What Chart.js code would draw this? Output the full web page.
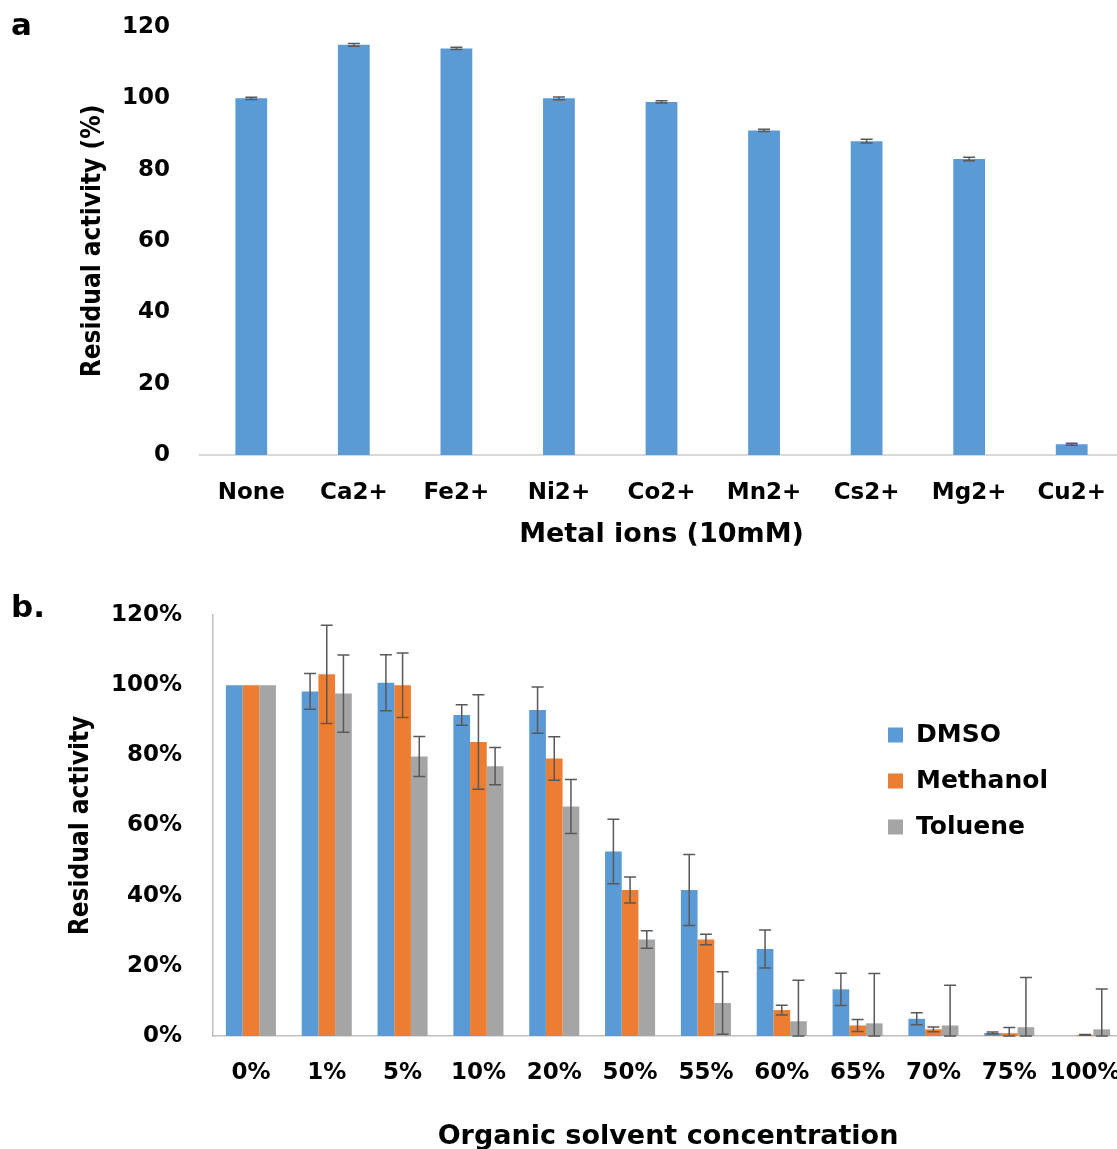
<!DOCTYPE html>
<html>
<head>
<meta charset="utf-8">
<title>Residual activity</title>
<script src="https://cdn.jsdelivr.net/npm/chart.js@4.4.0/dist/chart.umd.min.js"></script>
<style>
  html, body { margin: 0; padding: 0; background: #fff; overflow: hidden; }
  #wrap { position: relative; width: 1117px; height: 1149px; overflow: hidden; }
  canvas { position: absolute; left: 0; }
  #chartA { top: 0; }
  #chartB { top: 565px; }
  .panel { position: absolute; font: bold 31px "DejaVu Sans"; line-height: 31px; color: #000; }
</style>
</head>
<body>
<div id="wrap">
  <canvas id="chartA" width="1125" height="565"></canvas>
  <canvas id="chartB" width="1125" height="610"></canvas>
  <div class="panel" style="left:11px; top:9px">a</div>
  <div class="panel" style="left:11px; top:591px">b.</div>
</div>
<script>
// panel a - metal ions
var ions = ["None", "Ca2+", "Fe2+", "Ni2+", "Co2+", "Mn2+", "Cs2+", "Mg2+", "Cu2+"];
var ionActivity = [100, 115, 114, 100, 99, 91, 88, 83, 3];
var ionError = [0.3, 0.4, 0.3, 0.4, 0.3, 0.3, 0.5, 0.5, 0.3];

// panel b - organic solvents
var solventConc = ["0%", "1%", "5%", "10%", "20%", "50%", "55%", "60%", "65%", "70%", "75%", "100%"];
var dmso = [100, 98.2, 100.7, 91.5, 92.9, 52.6, 41.6, 24.8, 13.3, 4.9, 0.85, 0];
var dmsoErr = [0, 5.1, 8, 2.9, 6.6, 9.2, 10.1, 5.4, 4.6, 1.7, 0.3, 0];
var methanol = [100, 103.1, 100, 83.8, 79.1, 41.6, 27.5, 7.4, 3.0, 1.9, 0.8, 0.3];
var methanolErr = [0, 14, 9.2, 13.5, 6.2, 3.7, 1.5, 1.4, 1.7, 0.7, 1.6, 0.1];
var toluene = [100, 97.6, 79.7, 76.9, 65.4, 27.5, 9.4, 4.2, 3.6, 3.0, 2.5, 1.9];
var tolueneErr = [0, 11, 5.7, 5.3, 7.7, 2.5, 8.9, 11.7, 14.2, 11.5, 14.2, 11.5];

var narrowFont = "'DejaVu Sans Condensed', 'DejaVu Sans'";

Chart.defaults.font.family = "'DejaVu Sans'";
Chart.defaults.font.weight = "bold";
Chart.defaults.color = "#000";

// draws the error bars with the y scale of the chart
const errorBars = {
  id: "errorBars",
  afterDatasetsDraw(chart) {
    const ctx = chart.ctx;
    const y = chart.scales.y;
    chart.data.datasets.forEach(function (ds, i) {
      if (!ds.errors) return;
      const meta = chart.getDatasetMeta(i);
      meta.data.forEach(function (bar, j) {
        const err = ds.errors[j];
        if (!err) return;
        const v = ds.data[j];
        const top = y.getPixelForValue(v + err);
        const bot = y.getPixelForValue(Math.max(v - err, 0));
        ctx.save();
        ctx.strokeStyle = "#595959";
        ctx.lineWidth = 1.5;
        ctx.beginPath();
        ctx.moveTo(bar.x, top);
        ctx.lineTo(bar.x, bot);
        ctx.moveTo(bar.x - 6, top);
        ctx.lineTo(bar.x + 6, top);
        ctx.moveTo(bar.x - 6, bot);
        ctx.lineTo(bar.x + 6, bot);
        ctx.stroke();
        ctx.restore();
      });
    });
  },
};

// legend drawn inside the plot area
const insideLegend = {
  id: "insideLegend",
  afterDraw(chart, args, opts) {
    if (!opts.show) return;
    const ctx = chart.ctx;
    const area = chart.chartArea;
    ctx.save();
    ctx.font = "bold 25px 'DejaVu Sans'";
    ctx.textBaseline = "middle";
    chart.data.datasets.forEach(function (ds, i) {
      const yy = area.top + opts.top + i * opts.step;
      const xx = area.left + opts.left;
      ctx.fillStyle = ds.backgroundColor;
      ctx.fillRect(xx, yy - 7.5, 15, 15);
      ctx.fillStyle = "#000";
      ctx.fillText(ds.label, xx + 28, yy);
    });
    ctx.restore();
  },
};

// no automatic padding from the tick labels, the layout padding decides
function semPadding(s) {
  s.paddingTop = 0;
  s.paddingBottom = 0;
  s.paddingLeft = 0;
  s.paddingRight = 0;
}

function plotarMetais() {
  var ctx = document.getElementById("chartA").getContext("2d");
  new Chart(ctx, {
    type: "bar",
    data: {
      labels: ions,
      datasets: [
        {
          label: "Residual activity",
          data: ionActivity,
          errors: ionError,
          backgroundColor: "#5B9BD5",
          categoryPercentage: 1,
          barPercentage: 0.31,
        },
      ],
    },
    options: {
      responsive: false,
      animation: false,
      devicePixelRatio: 1,
      layout: { padding: { top: 27, right: 2, left: 0, bottom: 0 } },
      plugins: { legend: { display: false }, tooltip: { enabled: false } },
      scales: {
        x: {
          grid: { display: false, drawTicks: false },
          border: { display: true, color: "#d9d9d9", width: 2 },
          ticks: { padding: 24.5, autoSkip: false, maxRotation: 0, font: { size: 23 } },
          title: {
            display: true,
            text: "Metal ions (10mM)",
            font: { size: 27 },
            padding: { top: 0, bottom: 14 },
          },
          afterFit: function (s) { s.height = 110; semPadding(s); },
        },
        y: {
          min: 0,
          max: 120,
          ticks: { stepSize: 20, padding: 30, font: { size: 23 } },
          grid: { display: false, drawTicks: false },
          border: { display: false },
          title: {
            display: true,
            text: "Residual activity (%)",
            font: { family: narrowFont, size: 26 },
            padding: { top: 78, bottom: 0 },
          },
          afterFit: function (s) { s.width = 200; semPadding(s); },
        },
      },
    },
    plugins: [errorBars],
  });
}

function plotarSolventes() {
  var ctx = document.getElementById("chartB").getContext("2d");
  new Chart(ctx, {
    type: "bar",
    data: {
      labels: solventConc,
      datasets: [
        { label: "DMSO", data: dmso, errors: dmsoErr, backgroundColor: "#5B9BD5" },
        { label: "Methanol", data: methanol, errors: methanolErr, backgroundColor: "#ED7D31" },
        { label: "Toluene", data: toluene, errors: tolueneErr, backgroundColor: "#A5A5A5" },
      ],
    },
    options: {
      responsive: false,
      animation: false,
      devicePixelRatio: 1,
      categoryPercentage: 0.66,
      barPercentage: 1,
      layout: { padding: { top: 50, right: 2, left: 0, bottom: 0 } },
      plugins: {
        legend: { display: false },
        tooltip: { enabled: false },
        insideLegend: { show: true, left: 675, top: 120, step: 46 },
      },
      scales: {
        x: {
          grid: { display: false, drawTicks: false },
          border: { display: true, color: "#bfbfbf", width: 1.5 },
          ticks: { padding: 23.5, autoSkip: false, maxRotation: 0, font: { size: 23 } },
          title: {
            display: true,
            text: "Organic solvent concentration",
            font: { size: 27 },
            padding: { top: 0, bottom: 22 },
          },
          afterFit: function (s) { s.height = 139; semPadding(s); },
        },
        y: {
          min: 0,
          max: 120,
          ticks: {
            stepSize: 20,
            padding: 31,
            font: { size: 23 },
            callback: function (v) { return v + "%"; },
          },
          grid: { display: false, drawTicks: false },
          border: { display: true, color: "#bfbfbf", width: 1.5 },
          title: {
            display: true,
            text: "Residual activity",
            font: { family: narrowFont, size: 26 },
            padding: { top: 66, bottom: 0 },
          },
          afterFit: function (s) { s.width = 213; semPadding(s); },
        },
      },
    },
    plugins: [errorBars, insideLegend],
  });
}

plotarMetais();
plotarSolventes();
</script>
</body>
</html>
